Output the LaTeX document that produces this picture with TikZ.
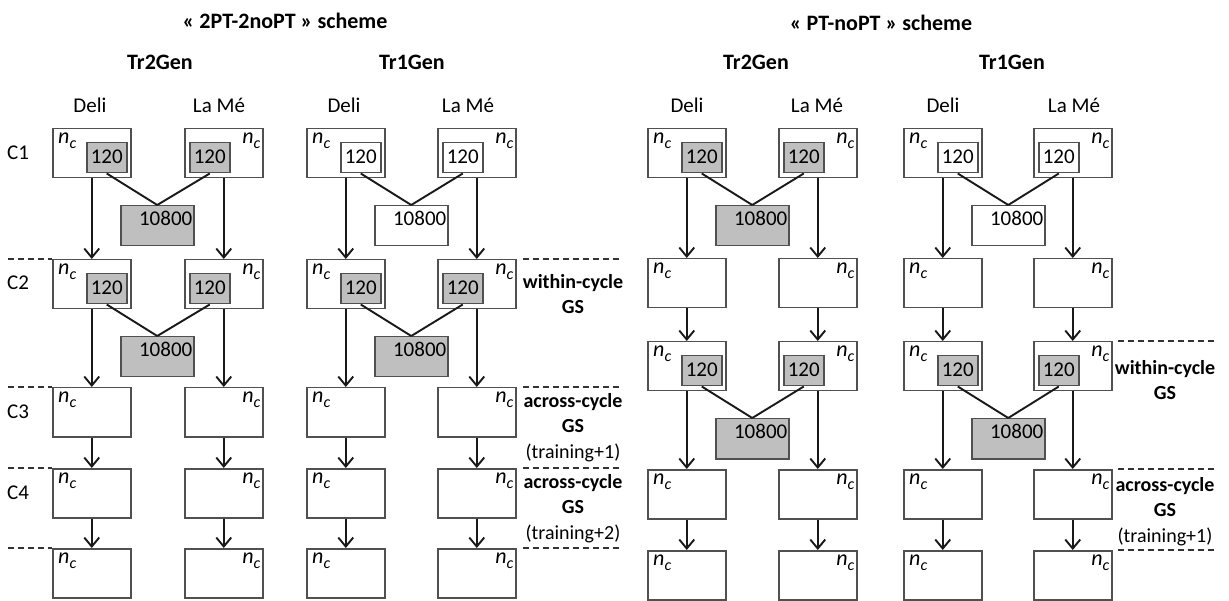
\documentclass[tikz,border=0pt]{standalone}
\usepackage{fontspec}
\setmainfont{Carlito}
\usetikzlibrary{arrows.meta}
\definecolor{bord}{HTML}{505050}
\definecolor{gfill}{HTML}{BFBFBF}
\newcommand{\nc}{{\fontsize{22}{22}\selectfont\textit{n}}\raisebox{-5pt}{\fontsize{16}{16}\selectfont\textit{c}}}
\tikzset{
 every node/.style={font=\fontsize{21}{25}\selectfont, inner sep=0pt},
 outer/.style={draw=bord, line width=1.5pt, fill=white, minimum width=78pt, minimum height=49pt, anchor=north west},
 ncW/.style={label={[anchor=north west, inner xsep=6pt, inner ysep=5pt]north west:\nc}},
 ncE/.style={label={[anchor=north east, inner xsep=3pt, inner ysep=5pt]north east:\nc}},
 inbox/.style={draw=bord, line width=1.5pt, minimum width=40pt, minimum height=30pt, anchor=north west},
 bigbox/.style={draw=bord, line width=1.5pt, minimum width=73pt, minimum height=40pt, anchor=north west},
 gr/.style={fill=gfill}, wh/.style={fill=white},
 conn/.style={line width=1.9pt, black!90},
 arr/.style={line width=1.9pt, black!90, -{Straight Barb[length=9pt,width=15pt,line width=1.9pt]}},
 dsh/.style={dash pattern=on 6pt off 4pt, line width=1.4pt, black!80},
 ttl/.style={font=\bfseries\fontsize{22}{26}\selectfont},
 side/.style={align=center, anchor=north, font=\fontsize{20}{25.5}\selectfont},
}
\newcommand{\gsblock}[5]{%
 \node[inbox,#5] (#1d) at ({#2+34},{#4+14}) {\raisebox{2pt}{120}};
 \node[inbox,#5] (#1l) at ({#3+5},{#4+14}) {\raisebox{2pt}{120}};
 \node[bigbox,#5,label={[anchor=north east,inner xsep=2pt,inner ysep=6pt]north east:10800}] (#1b) at ({#2+68},{#4+77}) {};
 \draw[conn] (#1d.south) -- (#1b.north);
 \draw[conn] (#1l.south) -- (#1b.north);}
\begin{document}
\begin{tikzpicture}[x=1pt,y=-1pt]
\useasboundingbox (0,0) rectangle (1229,601);
% titles
\node[ttl] (t1) at (285,21) {« 2PT-2noPT » scheme};
\node[ttl] (t2) at (881,23) {« PT-noPT » scheme};
\node[ttl] (ga) at (160,62) {Tr2Gen};
\node[ttl] (gb) at (412,62) {Tr1Gen};
\node[ttl] (gc) at (756,62) {Tr2Gen};
\node[ttl] (gd) at (1012,62) {Tr1Gen};
\node (ha1) at (90,105) {Deli};
\node (ha2) at (219,105) {La Mé};
\node (hb1) at (344,105) {Deli};
\node (hb2) at (468,105) {La Mé};
\node (hc1) at (687,105) {Deli};
\node (hc2) at (817,105) {La Mé};
\node (hd1) at (943,105) {Deli};
\node (hd2) at (1074,105) {La Mé};
% cycle labels
\node (c1) at (18,153) {C1};
\node (c2) at (18,283) {C2};
\node (c3) at (18,412) {C3};
\node (c4) at (18,493) {C4};
% boxes
\foreach \p/\xd/\xl in {a/52/184, b/306/437}{
 \foreach \i/\t in {1/128,2/259,3/387,4/468,5/548}{
  \node[outer,ncW] (\p D\i) at (\xd,\t) {};
  \node[outer,ncE] (\p L\i) at (\xl,\t) {};
 }
}
\foreach \p/\xd/\xl in {c/647/778, d/903/1033}{
 \foreach \i/\t in {1/128,2/258,3/341,4/469,5/550}{
  \node[outer,ncW] (\p D\i) at (\xd,\t) {};
  \node[outer,ncE] (\p L\i) at (\xl,\t) {};
 }
}
% arrows
\foreach \p in {aD,aL,bD,bL,cD,cL,dD,dL}{
 \foreach \i/\j in {1/2,2/3,3/4,4/5}{
  \draw[arr] (\p\i.south) -- (\p\j.north);
 }
}
% genomic selection blocks
\gsblock{a1}{52}{184}{128}{gr}
\gsblock{a2}{52}{184}{259}{gr}
\gsblock{b1}{306}{437}{128}{wh}
\gsblock{b2}{306}{437}{259}{gr}
\gsblock{c1}{647}{778}{128}{gr}
\gsblock{c3}{647}{778}{341}{gr}
\gsblock{d1}{903}{1033}{128}{wh}
\gsblock{d3}{903}{1033}{341}{gr}
% dashed separators
\foreach \i/\t in {2/259,3/387,4/468,5/548}{
 \coordinate (ld\i) at (8,\t);
 \draw[dsh] (ld\i) -- (aD\i.north west);
 \coordinate (rd\i) at (620,\t);
 \draw[dsh] ([xshift=6pt]bL\i.north east) -- (rd\i);
}
\foreach \i/\t in {3/341,4/469,5/550}{
 \coordinate (sd\i) at (1217,\t);
 \draw[dsh] ([xshift=5pt]dL\i.north east) -- (sd\i);
}
% side labels
\node[side] (w1) at (573,274) {\textbf{within-cycle}\\\textbf{GS}};
\node[side] (x1) at (573,393) {\textbf{across-cycle}\\\textbf{GS}\\(training+1)};
\node[side] (x2) at (573,474) {\textbf{across-cycle}\\\textbf{GS}\\(training+2)};
\node[side] (w2) at (1165,360) {\textbf{within-cycle}\\\textbf{GS}};
\node[side] (x3) at (1165,477) {\textbf{across-cycle}\\\textbf{GS}\\(training+1)};
\end{tikzpicture}
\end{document}
